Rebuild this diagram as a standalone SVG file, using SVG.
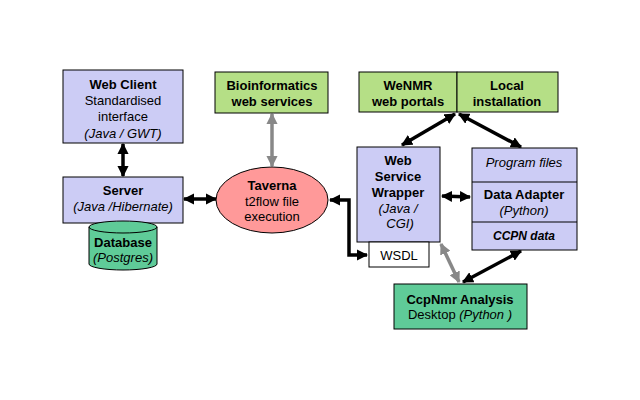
<svg xmlns="http://www.w3.org/2000/svg" width="640" height="400" viewBox="0 0 640 400">
<defs>
<marker id="ab" viewBox="0 0 10 10" refX="9" refY="5" markerWidth="3.2" markerHeight="3.2" orient="auto-start-reverse" markerUnits="strokeWidth"><path d="M0,0 L10,5 L0,10 z" fill="#000"/></marker>
<marker id="ag" viewBox="0 0 10 10" refX="9" refY="5" markerWidth="3.2" markerHeight="3.2" orient="auto-start-reverse" markerUnits="strokeWidth"><path d="M0,0 L10,5 L0,10 z" fill="#888"/></marker>
</defs>
<style>
text{font-family:"Liberation Sans",Arial,sans-serif;font-size:13px;fill:#000;text-anchor:middle}
.b{font-weight:bold}
.i{font-style:italic}
.lav{fill:#ccccf5;stroke:#000;stroke-width:1}
.grn{fill:#b5df86;stroke:#000;stroke-width:1}
.teal{fill:#5fcb98;stroke:#000;stroke-width:1}
.bl{fill:none;stroke:#000;stroke-width:3.5;marker-start:url(#ab);marker-end:url(#ab)}
.gr{fill:none;stroke:#888;stroke-width:3.5;marker-start:url(#ag);marker-end:url(#ag)}
</style>
<rect width="640" height="400" fill="#fff"/>
<g id="connectors">
<line class="bl" x1="123" y1="144" x2="123" y2="176"/>
<line class="bl" x1="184" y1="199" x2="216" y2="199"/>
<line class="gr" x1="272" y1="114" x2="272" y2="166"/>
<polyline class="bl" points="330,200 349,200 349,255 367,255"/>
<line class="bl" x1="402" y1="145" x2="455" y2="114"/>
<line class="bl" x1="459" y1="114" x2="521" y2="147"/>
<line class="bl" x1="442" y1="196" x2="470" y2="197"/>
<line class="gr" x1="441" y1="244" x2="459" y2="282"/>
<line class="bl" x1="521" y1="251" x2="463" y2="282"/>
</g>
<g id="webclient">
<rect class="lav" x="63" y="70" width="120" height="73"/>
<text x="123" y="89" class="b">Web Client</text>
<text x="123" y="105">Standardised</text>
<text x="123" y="121">interface</text>
<text x="123" y="138" class="i">(Java / GWT)</text>
</g>
<g id="server">
<rect class="lav" x="63" y="177" width="120" height="46"/>
<text x="123" y="195" class="b">Server</text>
<text x="123" y="211" class="i">(Java /Hibernate)</text>
</g>
<g id="database">
<path class="teal" d="M89,227 L89,264 A34,6 0 0 0 157,264 L157,227 A34,6 0 0 0 89,227 z"/>
<path d="M89,227 A34,6 0 0 0 157,227" fill="none" stroke="#000"/>
<text x="123" y="247" class="b">Database</text>
<text x="123" y="262" class="i">(Postgres)</text>
</g>
<g id="bioinformatics">
<rect class="grn" x="215" y="72" width="113" height="41"/>
<text x="272" y="90" class="b">Bioinformatics</text>
<text x="272" y="106" class="b">web services</text>
</g>
<g id="taverna">
<ellipse cx="272" cy="200" rx="56" ry="33" fill="#ff9999" stroke="#000"/>
<text x="272" y="190" class="b">Taverna</text>
<text x="272" y="206">t2flow file</text>
<text x="272" y="221">execution</text>
</g>
<g id="wenmr">
<rect class="grn" x="359" y="72" width="98" height="40"/>
<text x="408" y="90" class="b">WeNMR</text>
<text x="408" y="106" class="b">web portals</text>
</g>
<g id="local">
<rect class="grn" x="457" y="72" width="101" height="40"/>
<text x="507" y="90" class="b">Local</text>
<text x="507" y="106" class="b">installation</text>
</g>
<g id="wrapper">
<rect class="lav" x="357" y="147" width="83" height="95"/>
<text x="398" y="165" class="b">Web</text>
<text x="398" y="181" class="b">Service</text>
<text x="398" y="197" class="b">Wrapper</text>
<text x="398" y="213" class="i">(Java /</text>
<text x="400" y="228" class="i">CGI)</text>
</g>
<g id="wsdl">
<rect x="369" y="242" width="60" height="25" fill="#fff" stroke="#000"/>
<text x="399" y="260">WSDL</text>
</g>
<g id="adapter">
<rect class="lav" x="472" y="148" width="105" height="102"/>
<line x1="472" y1="182" x2="577" y2="182" stroke="#000"/>
<line x1="472" y1="222" x2="577" y2="222" stroke="#000"/>
<text x="524" y="167" class="i">Program files</text>
<text x="524" y="199" class="b">Data Adapter</text>
<text x="524" y="215" class="i">(Python)</text>
<text x="524" y="240" class="b i" style="font-size:12px">CCPN data</text>
</g>
<g id="ccpnmr">
<rect class="teal" x="394" y="284" width="133" height="45"/>
<text x="460" y="304" class="b">CcpNmr Analysis</text>
<text x="460" y="319">Desktop <tspan class="i">(Python )</tspan></text>
</g>
</svg>
